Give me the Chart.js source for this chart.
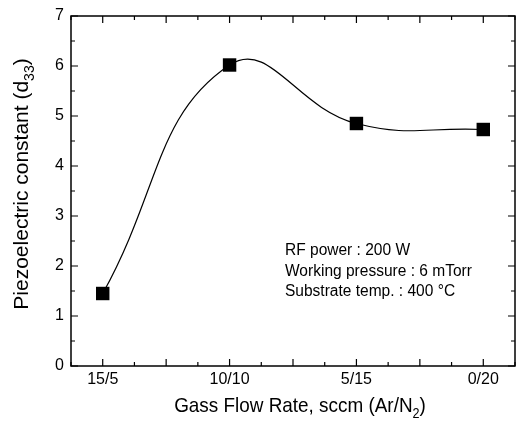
<!DOCTYPE html>
<html>
<head>
<meta charset="utf-8">
<script src="https://cdn.jsdelivr.net/npm/chart.js@4/dist/chart.umd.min.js"></script>
<style>
  html, body { margin: 0; padding: 0; background: #fff; }
  #wrap { width: 516px; height: 424px; }
</style>
</head>
<body>
<div id="wrap"><canvas id="chart" width="516" height="424"></canvas></div>
<script>
// Gas flow ratios (Ar/N2) and measured d33
const flowLabels = ['15/5', '10/10', '5/15', '0/20'];
const d33 = [1.45, 6.02, 4.85, 4.73];
const yTicks = [0, 1, 2, 3, 4, 5, 6, 7];
const notes = ['RF power : 200 W', 'Working pressure : 6 mTorr', 'Substrate temp. : 400 \u00B0C'];

const FONT = "'Liberation Sans', Arial, sans-serif";

// text with a subscript part, centred on current origin
function subText(ctx, parts, big, small, drop) {
  let w = 0;
  parts.forEach(([s, sub]) => { ctx.font = (sub ? small : big) + 'px ' + FONT; w += ctx.measureText(s).width; });
  let cx = -w / 2;
  parts.forEach(([s, sub]) => {
    ctx.font = (sub ? small : big) + 'px ' + FONT;
    ctx.fillText(s, cx, sub ? drop : 0);
    cx += ctx.measureText(s).width;
  });
}

// frame, inward ticks on all four sides, axis titles, notes
const decor = {
  id: 'decor',
  afterDraw(chart) {
    const { ctx, chartArea: a, scales: { x, y } } = chart;
    ctx.save();
    ctx.strokeStyle = '#000';
    ctx.lineWidth = 1.5;
    ctx.strokeRect(a.left, a.top, a.right - a.left, a.bottom - a.top);

    ctx.lineWidth = 1.2;
    ctx.beginPath();
    for (let v = -0.25; v <= 3.25001; v += 0.25) {
      const px = x.getPixelForValue(v);
      const len = (Math.abs(v * 2 - Math.round(v * 2)) < 1e-6) ? 7 : 4;
      ctx.moveTo(px, a.bottom); ctx.lineTo(px, a.bottom - len);
      ctx.moveTo(px, a.top); ctx.lineTo(px, a.top + len);
    }
    for (let v = 0; v <= 7.0001; v += 0.5) {
      const py = y.getPixelForValue(v);
      const len = Number.isInteger(v) ? 7 : 4;
      ctx.moveTo(a.left, py); ctx.lineTo(a.left + len, py);
      ctx.moveTo(a.right, py); ctx.lineTo(a.right - len, py);
    }
    ctx.stroke();

    ctx.fillStyle = '#000';
    ctx.textAlign = 'left';
    ctx.textBaseline = 'alphabetic';

    // x title, slightly condensed
    ctx.save();
    ctx.translate(300, 412);
    ctx.scale(0.9, 1);
    subText(ctx, [['Gass Flow Rate, sccm (Ar/N', false], ['2', true], [')', false]], 21, 14, 6);
    ctx.restore();

    // y title rotated
    ctx.save();
    ctx.translate(28, 184);
    ctx.rotate(-Math.PI / 2);
    subText(ctx, [['Piezoelectric constant (d', false], ['33', true], [')', false]], 21, 14, 6);
    ctx.restore();

    // conditions
    ctx.font = '16px ' + FONT;
    ctx.textBaseline = 'middle';
    ctx.save();
    ctx.translate(285, 0);
    ctx.scale(0.97, 1);
    notes.forEach((s, i) => ctx.fillText(s, 0, 251 + i * 20.5));
    ctx.restore();
    ctx.restore();
  }
};

new Chart(document.getElementById('chart'), {
  type: 'line',
  data: {
    datasets: [{
      data: d33.map((v, i) => ({ x: i, y: v })),
      borderColor: '#000',
      borderWidth: 1.2,
      backgroundColor: '#000',
      pointStyle: 'rect',
      pointRadius: 9.5,
      pointBorderWidth: 0,
      tension: 0.45,
      fill: false
    }]
  },
  options: {
    responsive: false,
    animation: false,
    layout: { autoPadding: false, padding: { top: 16, right: 1, left: 0, bottom: 0 } },
    plugins: { legend: { display: false }, tooltip: { enabled: false } },
    scales: {
      x: {
        type: 'linear',
        min: -0.25,
        max: 3.25,
        grid: { display: false, drawTicks: false },
        border: { display: false },
        afterBuildTicks: s => { s.ticks = flowLabels.map((_, i) => ({ value: i })); },
        afterFit: s => { s.height = 58; s.paddingLeft = 0; s.paddingRight = 0; },
        ticks: {
          autoSkip: false,
          maxRotation: 0,
          padding: 4,
          color: '#000',
          font: { family: FONT, size: 16 },
          callback: v => flowLabels[v] ?? ''
        }
      },
      y: {
        min: 0,
        max: 7,
        grid: { display: false, drawTicks: false },
        border: { display: false },
        afterBuildTicks: s => { s.ticks = yTicks.map(v => ({ value: v })); },
        afterFit: s => { s.width = 71; s.paddingTop = 0; s.paddingBottom = 0; },
        ticks: {
          padding: 7,
          color: '#000',
          font: { family: FONT, size: 16 }
        }
      }
    }
  },
  plugins: [decor]
});
</script>
</body>
</html>
